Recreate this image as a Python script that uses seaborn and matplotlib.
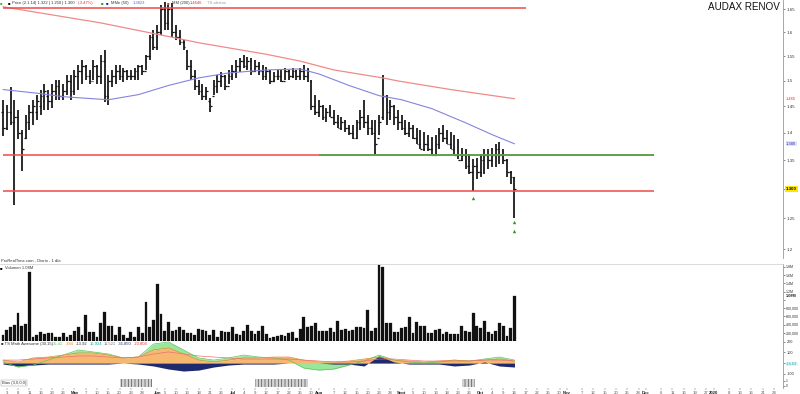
import numpy as np
import pandas as pd
import matplotlib
matplotlib.use("Agg")
import matplotlib.pyplot as plt
import seaborn as sns

# daily OHLC (EUR)
opens = [1.44, 1.41, 1.44, 1.42, 1.43, 1.40, 1.39, 1.42, 1.44, 1.44, 1.45, 1.46, 1.47, 1.46, 1.48, 1.49, 1.47, 1.48, 1.50, 1.48,
         1.51, 1.52, 1.53, 1.51, 1.50, 1.53, 1.51, 1.54, 1.47, 1.50, 1.51, 1.52, 1.51, 1.52, 1.51, 1.51, 1.52, 1.53, 1.52, 1.55,
         1.59, 1.57, 1.60, 1.65, 1.62, 1.65, 1.60, 1.59, 1.58, 1.56, 1.53, 1.51, 1.49, 1.48, 1.47, 1.46, 1.47, 1.49, 1.50, 1.51,
         1.49, 1.51, 1.52, 1.53, 1.54, 1.53, 1.54, 1.52, 1.53, 1.52, 1.51, 1.52, 1.50, 1.51, 1.51, 1.50, 1.52, 1.51, 1.52, 1.51,
         1.52, 1.51, 1.50, 1.45, 1.44, 1.45, 1.43, 1.44, 1.43, 1.42, 1.41, 1.42, 1.41, 1.40, 1.39, 1.42, 1.43, 1.42, 1.41, 1.40,
         1.39, 1.43, 1.47, 1.44, 1.45, 1.43, 1.42, 1.41, 1.40, 1.41, 1.39, 1.38, 1.37, 1.38, 1.37, 1.36, 1.38, 1.40, 1.39, 1.38,
         1.37, 1.36, 1.35, 1.36, 1.34, 1.33, 1.34, 1.33, 1.35, 1.36, 1.35, 1.36, 1.37, 1.36, 1.35, 1.33, 1.32]
highs = [1.463, 1.453, 1.487, 1.463, 1.444, 1.406, 1.434, 1.453, 1.463, 1.473, 1.483, 1.493, 1.483, 1.493, 1.502, 1.502, 1.493, 1.512, 1.512, 1.522,
         1.532, 1.542, 1.532, 1.522, 1.542, 1.532, 1.552, 1.563, 1.512, 1.522, 1.532, 1.532, 1.526, 1.522, 1.522, 1.526, 1.532, 1.532, 1.552, 1.594,
         1.605, 1.615, 1.659, 1.665, 1.659, 1.663, 1.615, 1.605, 1.584, 1.563, 1.542, 1.522, 1.502, 1.493, 1.487, 1.467, 1.502, 1.512, 1.518, 1.512,
         1.522, 1.532, 1.542, 1.546, 1.552, 1.548, 1.546, 1.542, 1.538, 1.532, 1.528, 1.522, 1.518, 1.522, 1.522, 1.526, 1.522, 1.526, 1.522, 1.526,
         1.532, 1.526, 1.502, 1.473, 1.463, 1.453, 1.448, 1.453, 1.444, 1.434, 1.429, 1.425, 1.415, 1.415, 1.425, 1.444, 1.463, 1.434, 1.425, 1.425,
         1.434, 1.512, 1.473, 1.463, 1.453, 1.444, 1.434, 1.425, 1.421, 1.415, 1.410, 1.406, 1.402, 1.397, 1.392, 1.397, 1.410, 1.415, 1.406, 1.402,
         1.397, 1.388, 1.373, 1.370, 1.361, 1.352, 1.355, 1.361, 1.370, 1.370, 1.373, 1.379, 1.384, 1.370, 1.352, 1.331, 1.320]
lows = [1.395, 1.406, 1.415, 1.273, 1.388, 1.331, 1.388, 1.406, 1.415, 1.425, 1.434, 1.444, 1.444, 1.448, 1.463, 1.463, 1.463, 1.473, 1.463, 1.473,
        1.483, 1.493, 1.502, 1.493, 1.502, 1.493, 1.493, 1.459, 1.453, 1.487, 1.493, 1.502, 1.497, 1.502, 1.502, 1.502, 1.502, 1.512, 1.522, 1.542,
        1.563, 1.563, 1.594, 1.605, 1.605, 1.590, 1.584, 1.573, 1.563, 1.522, 1.502, 1.483, 1.473, 1.463, 1.463, 1.440, 1.473, 1.477, 1.487, 1.483,
        1.493, 1.502, 1.506, 1.518, 1.526, 1.522, 1.512, 1.518, 1.512, 1.502, 1.502, 1.493, 1.497, 1.502, 1.497, 1.502, 1.502, 1.506, 1.502, 1.502,
        1.502, 1.497, 1.444, 1.434, 1.430, 1.425, 1.421, 1.430, 1.415, 1.410, 1.406, 1.402, 1.397, 1.388, 1.388, 1.406, 1.410, 1.397, 1.397, 1.361,
        1.397, 1.425, 1.415, 1.425, 1.415, 1.406, 1.406, 1.397, 1.392, 1.388, 1.379, 1.370, 1.366, 1.366, 1.361, 1.361, 1.370, 1.383, 1.379, 1.370,
        1.361, 1.352, 1.348, 1.334, 1.325, 1.297, 1.317, 1.320, 1.325, 1.334, 1.338, 1.338, 1.343, 1.343, 1.320, 1.308, 1.251]
closes = [1.41, 1.44, 1.42, 1.43, 1.40, 1.37, 1.42, 1.44, 1.45, 1.46, 1.47, 1.48, 1.46, 1.48, 1.49, 1.47, 1.48, 1.50, 1.48, 1.51,
          1.52, 1.53, 1.51, 1.50, 1.53, 1.51, 1.54, 1.47, 1.50, 1.51, 1.52, 1.51, 1.52, 1.51, 1.51, 1.52, 1.53, 1.52, 1.55, 1.59,
          1.57, 1.60, 1.65, 1.62, 1.65, 1.60, 1.59, 1.58, 1.57, 1.53, 1.51, 1.49, 1.48, 1.47, 1.48, 1.45, 1.49, 1.50, 1.51, 1.49,
          1.51, 1.52, 1.53, 1.54, 1.53, 1.54, 1.52, 1.53, 1.52, 1.51, 1.52, 1.50, 1.51, 1.51, 1.50, 1.52, 1.51, 1.52, 1.51, 1.52,
          1.51, 1.52, 1.45, 1.44, 1.45, 1.43, 1.44, 1.43, 1.42, 1.41, 1.42, 1.41, 1.40, 1.39, 1.42, 1.43, 1.42, 1.41, 1.40, 1.38,
          1.42, 1.47, 1.44, 1.45, 1.43, 1.42, 1.41, 1.40, 1.41, 1.39, 1.38, 1.37, 1.38, 1.37, 1.36, 1.38, 1.40, 1.39, 1.38, 1.37,
          1.36, 1.35, 1.36, 1.34, 1.33, 1.34, 1.33, 1.35, 1.36, 1.35, 1.36, 1.37, 1.36, 1.35, 1.33, 1.32, 1.30]
volume = [145000, 265000, 337000, 385000, 675000, 361000, 410000, 1687000, 96000, 145000, 217000, 169000, 193000, 193000, 96000,
          96000, 193000, 96000, 145000, 241000, 337000, 145000, 627000, 217000, 217000, 96000, 434000, 699000, 361000, 361000,
          145000, 337000, 145000, 72000, 217000, 96000, 337000, 193000, 940000, 337000, 506000, 1373000, 651000, 241000, 458000,
          241000, 265000, 337000, 265000, 193000, 193000, 145000, 289000, 265000, 241000, 145000, 265000, 96000, 241000, 217000,
          217000, 337000, 169000, 145000, 241000, 385000, 241000, 169000, 241000, 361000, 169000, 72000, 96000, 120000, 145000,
          120000, 193000, 217000, 72000, 289000, 578000, 337000, 361000, 434000, 241000, 241000, 241000, 313000, 217000, 482000,
          265000, 289000, 241000, 265000, 337000, 337000, 313000, 747000, 241000, 313000, 1855000, 1807000, 434000, 434000, 217000,
          217000, 313000, 337000, 578000, 193000, 458000, 361000, 361000, 193000, 193000, 265000, 289000, 169000, 217000, 169000,
          169000, 169000, 361000, 241000, 217000, 675000, 361000, 313000, 482000, 217000, 169000, 241000, 434000, 361000, 120000,
          313000, 1084000]

# moving averages, sampled at bar numbers
ma50_idx = [0, 10, 16, 28, 36, 44, 52, 60, 70, 79, 84, 92, 100, 106, 114, 123, 130, 136]
ma50 = [1.483, 1.475, 1.469, 1.463, 1.473, 1.491, 1.506, 1.516, 1.522, 1.524, 1.514, 1.491, 1.471, 1.463, 1.446, 1.419, 1.397, 1.380]
ma200_idx = [0, 26, 44, 52, 70, 79, 88, 101, 105, 119, 136]
ma200 = [1.655, 1.620, 1.591, 1.578, 1.554, 1.540, 1.522, 1.506, 1.500, 1.483, 1.465]

# drawn levels: price, first bar, last bar
level_price = [1.652, 1.359, 1.2955]
level_from = [0, 0, 0]
level_to = [139, 173, 173]
green_price, green_from, green_to = 1.3605, 84, 173

sig_idx = [125, 136, 136]
sig_price = [1.285, 1.244, 1.230]

# oscillator, sampled every 4 bars
osc_idx = list(range(0, 137, 4))
osc_orange = [28, 10, 48, 57, 76, 95, 95, 76, 48, 57, 124, 143, 86, 28, 10, 28, 48, 48, 57, 57, 28, 10, 10, 19, 38, 57, 28, 19, 10, 19, 28, 19, 28, 38, 19]
osc_green = [10, -38, -19, 28, 76, 124, 105, 86, 48, 57, 180, 200, 124, 48, 28, 48, 76, 57, 48, 28, -48, -67, -57, -19, 19, 76, 28, 10, 0, 10, 28, 19, 38, 57, 28]
osc_navy = [-10, -28, -19, -10, -10, -10, -10, -10, 0, -10, -28, -57, -76, -67, -38, -19, -10, -10, -10, 0, 0, 0, -10, -10, -28, 67, 10, -10, -10, -10, -28, -19, 10, -28, -38]
osc_red = [28, 28, 38, 48, 57, 67, 67, 57, 48, 57, 86, 105, 86, 67, 57, 48, 38, 38, 38, 38, 28, 19, 10, 10, 19, 38, 38, 28, 19, 19, 19, 19, 28, 28, 19]

bias_spans = [(31, 39.5), (67, 81), (122, 125.5)]

price_ticks = [1.2, 1.25, 1.3, 1.35, 1.4, 1.45, 1.5, 1.55, 1.6, 1.65]
price_labels = ["1.2", "1.25", "", "1.35", "1.4", "1.45", "1.5", "1.55", "1.6", "1.65"]
vol_ticks = [200000, 400000, 600000, 800000, 1000000, 1200000, 1400000, 1600000, 1800000]
vol_labels = ["200,000", "400,000", "600,000", "800,000", "", "1.2M", "1.4M", "1.6M", "1.8M"]
osc_ticks = [-100, 0, 100, 200]
osc_labels = ["-100", "", "100", "200"]
month_names = {1: "2020", 5: "May", 6: "Jun", 7: "Jul", 8: "Aug", 9: "Sept", 10: "Oct", 11: "Nov", 12: "Dec"}
holidays = ["2019-04-19", "2019-04-22", "2019-05-01", "2019-12-24", "2019-12-25", "2019-12-26", "2019-12-31", "2020-01-01"]

sns.set_style("white")
plt.rcParams["font.family"] = ["Liberation Sans", "DejaVu Sans"]
plt.rcParams["hatch.linewidth"] = 0.5

n = len(closes)
x = np.arange(n)
cal = pd.bdate_range("2019-04-02", periods=212, freq="C", holidays=holidays)

fig = plt.figure(figsize=(8, 3.94), dpi=100)

def panel(top, bottom):
    return fig.add_axes([0, 1 - bottom / 394, 783 / 800, (bottom - top) / 394])

ax_p = panel(0, 258)
ax_v = panel(264, 341)
ax_o = panel(341, 378)
ax_b = panel(378, 388)
for ax in (ax_p, ax_v, ax_o, ax_b):
    ax.set_xlim(-0.8, 207.4)
    for s in ("left", "top", "bottom"):
        ax.spines[s].set_visible(False)
    ax.spines["right"].set_color("#999")
    ax.spines["right"].set_linewidth(0.6)
    ax.yaxis.tick_right()
    ax.tick_params(axis="y", labelsize=3.2, length=1.5, width=0.4, pad=1.2, colors="#333")
    ax.tick_params(axis="x", bottom=False, labelbottom=False)

# price panel
ax_p.set_yscale("log")
ax_p.vlines(x, lows, highs, color="#111", lw=1.25)
ax_p.hlines(opens, x - 0.45, x, color="#111", lw=0.9)
ax_p.hlines(closes, x, x + 0.45, color="#111", lw=0.9)
sns.lineplot(x=ma200_idx, y=ma200, ax=ax_p, color="#f08a8a", lw=0.9)
sns.lineplot(x=ma50_idx, y=ma50, ax=ax_p, color="#8484e0", lw=0.8)
ax_p.hlines(level_price, level_from, level_to, color="#f04848", lw=1.1)
ax_p.hlines(green_price, green_from, green_to, color="#3cb043", lw=1.1)
ax_p.scatter(sig_idx, sig_price, marker="^", color="#1fa21f", s=6, lw=0)
ax_p.set_ylim(1.186, 1.670)
ax_p.yaxis.set_minor_locator(plt.NullLocator())
ax_p.set_yticks(price_ticks)
ax_p.set_yticklabels(price_labels)
ax_p.set_ylabel("")
yt = ax_p.get_yaxis_transform()
ax_p.text(1.004, ma200[-1], f"{ma200[-1]:.3f}", transform=yt, fontsize=3.0, color="#e03030",
          va="center", bbox=dict(fc="white", ec="none", pad=0.4), zorder=5)
ax_p.text(1.004, ma50[-1], f"{ma50[-1]:.3f}", transform=yt, fontsize=3.0, color="#3030b0",
          va="center", bbox=dict(fc="#e2e2ff", ec="none", pad=0.4), zorder=5)
ax_p.text(1.004, closes[-1], f"{closes[-1]:.3f}", transform=yt, fontsize=3.2, color="black", weight="bold",
          va="center", bbox=dict(fc="#ffe600", ec="none", pad=0.6), zorder=5)

# volume panel
ax_v.bar(x, volume, width=0.74, color="#111", edgecolor="#111", lw=0.2)
ax_v.set_ylim(0, 1.87e6)
ax_v.set_yticks(vol_ticks)
ax_v.set_yticklabels(vol_labels)
ax_v.tick_params(axis="y", labelsize=2.6, pad=0.8)
for s in ("top", "bottom"):
    ax_v.spines[s].set_visible(True)
    ax_v.spines[s].set_color("#ccc")
    ax_v.spines[s].set_linewidth(0.5)
ax_v.text(1.004, volume[-1], "1.08M", transform=ax_v.get_yaxis_transform(), fontsize=2.8, weight="bold",
          va="center", bbox=dict(fc="white", ec="none", pad=0.3), zorder=5)

# oscillator panel
ax_o.fill_between(osc_idx, osc_orange, osc_green, color="#9ae69a", lw=0)
ax_o.plot(osc_idx, osc_green, color="#5cc45c", lw=0.5)
ax_o.fill_between(osc_idx, 0, osc_orange, color="#f6b870", lw=0)
ax_o.plot(osc_idx, osc_orange, color="#e38a2c", lw=0.5)
ax_o.fill_between(osc_idx, 0, osc_navy, color="#1f2a6e", lw=0)
sns.lineplot(x=osc_idx, y=osc_red, ax=ax_o, color="#ef7070", lw=0.5)
ax_o.set_ylim(-142, 209)
ax_o.set_yticks(osc_ticks)
ax_o.set_yticklabels(osc_labels)
ax_o.tick_params(axis="y", labelsize=2.8)
ax_o.set_ylabel("")
ax_o.spines["bottom"].set_visible(True)
ax_o.spines["bottom"].set_color("#ccc")
ax_o.spines["bottom"].set_linewidth(0.5)
ax_o.text(1.004, -9.6, "-14.63", transform=ax_o.get_yaxis_transform(), fontsize=2.8, color="#1aa5a5",
          va="center", bbox=dict(fc="#dff6f6", ec="none", pad=0.3), zorder=5)

# bias strip
for a, b in bias_spans:
    ax_b.axvspan(a, b, ymin=0.12, ymax=0.88, facecolor="#d2d2d2", edgecolor="#555", hatch="|||||", lw=0)
ax_b.set_ylim(0, 1)
ax_b.set_yticks([0.25, 0.75])
ax_b.set_yticklabels(["0", "1"])
ax_b.tick_params(axis="y", labelsize=2.4, pad=0.8)

# date axis
month_first = [i for i in range(1, len(cal)) if cal[i].month != cal[i - 1].month]
regular = [i for i in range(1, 208, 3) if all(abs(i - m) > 1.5 for m in month_first)]
ticks = sorted(regular + [m for m in month_first if m < 208])
labels = [month_names.get(cal[i].month, "") if i in month_first else str(cal[i].day) for i in ticks]
ax_b.set_xticks(ticks)
ax_b.set_xticklabels(labels)
ax_b.tick_params(axis="x", bottom=True, labelbottom=True, length=1.2, width=0.3, labelsize=3.1,
                 pad=1, colors="#555")
for t, i in zip(ax_b.get_xticklabels(), ticks):
    if i in month_first:
        t.set_fontweight("bold")
        t.set_color("#222")

# header texts
def hdr(xp, yp, s, color="#333", **kw):
    fig.text(xp / 800, 1 - yp / 394, s, fontsize=3.0, color=color, va="center", ha="left", **kw)

hdr(0, 3, "■", "#4caf50")
hdr(8, 3, "■", "#000")
hdr(12, 3, "Price (2.1.14) 1.322 | 1.250 | 1.300", "#333")
hdr(78, 3, "(-3.47%)", "#e03030")
hdr(101, 3, "■", "#1c9c1c")
hdr(106, 3, "■", "#2020c0")
hdr(111, 3, "MMe (50)", "#333")
hdr(133, 3, "1.3823", "#6060d0")
hdr(167, 3, "■", "#e03030")
hdr(172, 3, "MM (200)", "#333")
hdr(190, 3, "1.4646", "#e03030")
hdr(207, 3, "TS alertas", "#999")

hdr(1, 261, "ProRealTime.com - Diario - 1 día", "#333")
hdr(0, 268, "■", "#000")
hdr(5, 268, "Volumen 1.08M", "#333")

hdr(1, 344, "■ TS Math Awesome (30,15)", "#333")
hdr(53, 344, "35.41", "#5cc45c")
hdr(66, 344, "3.84", "#e38a2c")
hdr(76, 344, "-13.92", "#333")
hdr(90, 344, "15.924", "#1aa5a5")
hdr(104, 344, "11.521", "#777")
hdr(118, 344, "-35.850", "#1f2a6e")
hdr(134, 344, "-23.804", "#e03030")

hdr(2, 383, "Bias (3,0,0,0)", "#333",
    bbox=dict(fc="white", ec="#999", lw=0.3, pad=0.6))

fig.text(780 / 800, 1 - 1.5 / 394, "AUDAX RENOV", fontsize=7.1, ha="right", va="top", color="#111",
         bbox=dict(fc="white", ec="none", pad=1))

fig.savefig("out.png", dpi=100)
